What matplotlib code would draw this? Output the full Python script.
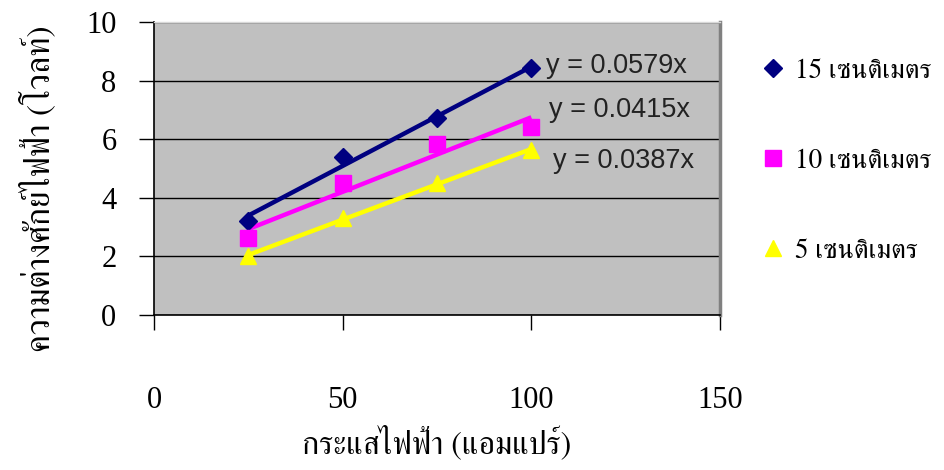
import numpy as np
import matplotlib
matplotlib.use("Agg")
import matplotlib.pyplot as plt
from matplotlib import font_manager
from matplotlib.ft2font import FT2Font
from matplotlib.lines import Line2D

# Current (A) and measured voltage (V) for three coil distances
current = [25, 50, 75, 100]
v_15cm = [3.21, 5.40, 6.71, 8.42]
v_10cm = [2.62, 4.49, 5.84, 6.41]
v_5cm = [2.01, 3.30, 4.49, 5.63]

series_labels = ["15 เซนติเมตร", "10 เซนติเมตร", "5 เซนติเมตร"]
equations = ["y = 0.0579x", "y = 0.0415x", "y = 0.0387x"]
x_ticks = [0, 50, 100, 150]
y_ticks = [0, 2, 4, 6, 8, 10]
x_title = "กระแสไฟฟ้า (แอมแปร์)"
y_title = "ความต่างศักย์ไฟฟ้า (โวลท์)"


def find_thai_family():
    """Return an installed family that has Thai glyphs, preferring serif faces."""
    found = []
    for f in font_manager.fontManager.ttflist:
        try:
            if 0x0E01 in FT2Font(f.fname).get_charmap():
                found.append(f.name)
        except Exception:
            continue
    for name in found:
        if "serif" in name.lower() and "sans" not in name.lower():
            return name
    return found[0] if found else None


thai = find_thai_family()
serif_fams = ["Liberation Serif"] + ([thai] if thai else []) + ["DejaVu Serif"]
thai_fams = ([thai] if thai else []) + ["Liberation Serif", "DejaVu Sans"]

fig = plt.figure(figsize=(9.45, 4.70), dpi=100)
ax = fig.add_axes([154 / 945, 1 - 315 / 470, (720 - 154) / 945, (315 - 22) / 470])
ax.set_facecolor("#c0c0c0")

colors = ["#000080", "#ff00ff", "#ffff00"]
markers = ["D", "s", "^"]
msizes = [9, 11, 12]
data = [v_15cm, v_10cm, v_5cm]
eq_pos = [(104.0, 8.5), (104.8, 7.0), (105.8, 5.26)]

x = np.array(current, dtype=float)
for vals, c, m, ms in zip(data, colors, markers, msizes):
    ax.plot(x, vals, linestyle="none", marker=m, markersize=ms,
            color=c, markeredgecolor=c, zorder=4)
    slope, icpt = np.polyfit(x, vals, 1)
    xs = np.array([x.min(), x.max()])
    ax.plot(xs, slope * xs + icpt, color=c, linewidth=3.2, zorder=3,
            solid_capstyle="butt")

for eq, (ex, ey) in zip(equations, eq_pos):
    ax.text(ex, ey, eq, fontsize=19.5, family="Liberation Sans",
            color="#222222", va="center", ha="left", zorder=5)

ax.set_xlim(0, 150)
ax.set_ylim(0, 10)
ax.set_xticks(x_ticks)
ax.set_yticks(y_ticks)
ax.yaxis.grid(True, color="black", linewidth=1.0)
ax.set_axisbelow(True)

ax.tick_params(axis="both", direction="out", length=11, width=1.0,
               color="black", labelsize=22)
ax.tick_params(axis="y", pad=16)
ax.tick_params(axis="x", pad=40)
for lbl in ax.get_xticklabels() + ax.get_yticklabels():
    lbl.set_family(serif_fams)

for side in ("left", "bottom"):
    ax.spines[side].set_color("black")
    ax.spines[side].set_linewidth(1.2)
ax.spines["right"].set_color("#808080")
ax.spines["right"].set_linewidth(2.5)
ax.spines["top"].set_color("#d8d8d8")
ax.spines["top"].set_linewidth(1.0)

ax.set_xlabel(x_title, fontsize=23, family=thai_fams, labelpad=8)
ax.set_ylabel(y_title, fontsize=24, family=thai_fams)
ax.yaxis.set_label_coords(-0.172, 0.43)

handles = [Line2D([], [], linestyle="none", marker=m, markersize=ms,
                  color=c, markeredgecolor=c)
           for c, m, ms in zip(colors, markers, msizes)]
leg = fig.legend(handles, series_labels, loc="upper left",
                 bbox_to_anchor=(738 / 945, 1 - 34 / 470), frameon=False,
                 labelspacing=2.4, handlelength=0.75, handletextpad=0.45,
                 prop={"family": thai_fams, "size": 19.5})

fig.savefig("out.png", dpi=100)
